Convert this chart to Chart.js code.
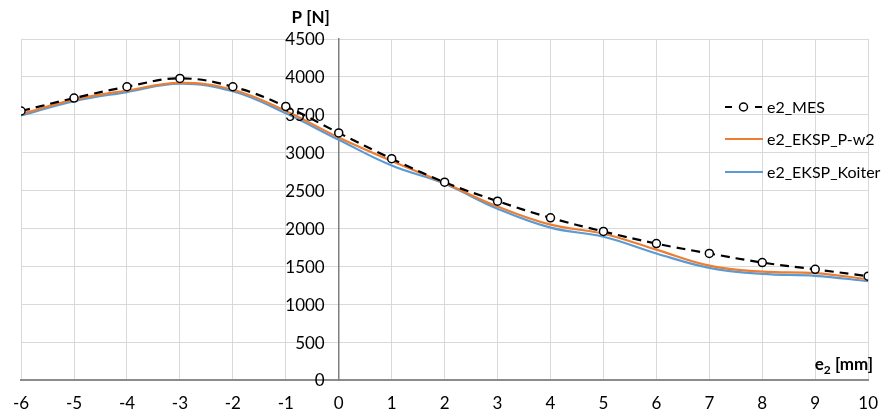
<!DOCTYPE html>
<html>
<head>
<meta charset="utf-8">
<script src="https://cdn.jsdelivr.net/npm/chart.js@4/dist/chart.umd.min.js"></script>
<style>
  html, body { margin: 0; padding: 0; background: #fff; }
  #wrap { width: 891px; height: 417px; position: relative; }
</style>
</head>
<body>
<div id="wrap"><canvas id="chart"></canvas></div>
<script>
// e2 eccentricity [mm] and load P [N]
const e2Values = [-6, -5, -4, -3, -2, -1, 0, 1, 2, 3, 4, 5, 6, 7, 8, 9, 10];
const mesValues = [3550, 3720, 3870, 3980, 3870, 3610, 3260, 2920, 2610, 2360, 2140, 1960, 1800, 1670, 1550, 1460, 1370];
const pw2Values = [3510, 3700, 3820, 3920, 3830, 3550, 3200, 2890, 2600, 2290, 2050, 1930, 1720, 1510, 1430, 1410, 1330];
const koiterValues = [3490, 3680, 3800, 3910, 3810, 3520, 3170, 2830, 2590, 2260, 2010, 1890, 1670, 1480, 1400, 1375, 1305];
const yTicks = [0, 500, 1000, 1500, 2000, 2500, 3000, 3500, 4000, 4500];

const FONT = 'Lato, "Open Sans", sans-serif';
const toPoints = vals => e2Values.map((x, i) => ({ x: x, y: vals[i] }));

// y tick labels sit left of the centred axis; Chart.js ignores padding there
const yLabels = {
    id: 'yLabels',
    afterDatasetsDraw(chart) {
        const ctx = chart.ctx;
        const yScale = chart.scales.y;
        const axisX = chart.scales.x.getPixelForValue(0);
        ctx.save();
        ctx.font = '17px ' + FONT;
        ctx.fillStyle = '#000';
        ctx.textAlign = 'right';
        ctx.textBaseline = 'middle';
        yTicks.forEach(v => ctx.fillText(String(v), axisX - 14, yScale.getPixelForValue(v) + 1));
        ctx.restore();
    }
};

// axis titles and the legend box on the right
const annotations = {
    id: 'annotations',
    afterDraw(chart) {
        const ctx = chart.ctx;
        const area = chart.chartArea;
        const yAxisX = chart.scales.x.getPixelForValue(0);
        ctx.save();
        ctx.fillStyle = '#000';
        ctx.textBaseline = 'alphabetic';

        ctx.font = 'bold 17px ' + FONT;
        ctx.textAlign = 'center';
        ctx.fillText('P [N]', yAxisX - 28, 23);

        // e₂ [mm]
        ctx.textAlign = 'left';
        const tail = ' [mm]';
        ctx.font = 'bold 17px ' + FONT;
        const wE = ctx.measureText('e').width;
        const wT = ctx.measureText(tail).width;
        ctx.font = 'bold 12px ' + FONT;
        const wSub = ctx.measureText('2').width;
        let x = area.right + 5 - (wE + wSub + wT);
        const base = 370;
        ctx.font = 'bold 17px ' + FONT;
        ctx.fillText('e', x, base);
        ctx.font = 'bold 12px ' + FONT;
        ctx.fillText('2', x + wE, base + 4);
        ctx.font = 'bold 17px ' + FONT;
        ctx.fillText(tail, x + wE + wSub, base);

        // legend
        const lx = 725, rows = [107, 139, 172];
        ctx.font = '16px ' + FONT;
        ctx.textBaseline = 'middle';
        chart.data.datasets.forEach((ds, i) => {
            const y = rows[i];
            ctx.strokeStyle = ds.borderColor;
            ctx.lineWidth = 2.2;
            ctx.setLineDash([]);
            ctx.beginPath();
            if (ds.borderDash) {
                ctx.moveTo(lx, y); ctx.lineTo(lx + 7, y);
                ctx.moveTo(lx + 30, y); ctx.lineTo(lx + 37, y);
                ctx.stroke();
                ctx.beginPath();
                ctx.lineWidth = 1.5;
                ctx.fillStyle = '#fff';
                ctx.arc(lx + 18.5, y, 4, 0, Math.PI * 2);
                ctx.fill();
                ctx.stroke();
            } else {
                ctx.moveTo(lx, y); ctx.lineTo(lx + 38, y);
                ctx.stroke();
            }
            ctx.fillStyle = '#000';
            ctx.fillText(ds.label, lx + 42, y + 1);
        });
        ctx.restore();
    }
};

new Chart(document.getElementById('chart'), {
    type: 'line',
    data: {
        datasets: [{
            label: 'e2_MES',
            data: toPoints(mesValues),
            borderColor: '#000000',
            borderWidth: 2.2,
            borderDash: [9, 6],
            tension: 0.4,
            pointRadius: 4,
            pointBorderWidth: 1.5,
            pointBackgroundColor: '#ffffff',
            pointBorderColor: '#000000'
        }, {
            label: 'e2_EKSP_P-w2',
            data: toPoints(pw2Values),
            borderColor: '#ED7D31',
            borderWidth: 2.2,
            tension: 0.4,
            pointRadius: 0
        }, {
            label: 'e2_EKSP_Koiter',
            data: toPoints(koiterValues),
            borderColor: '#5B9BD5',
            borderWidth: 2.2,
            tension: 0.4,
            pointRadius: 0
        }]
    },
    options: {
        responsive: true,
        maintainAspectRatio: false,
        animation: false,
        layout: { padding: { left: 13, right: 11, top: 39, bottom: 37 } },
        plugins: { legend: { display: false }, tooltip: { enabled: false } },
        scales: {
            x: {
                type: 'linear',
                position: { y: 0 },
                min: -6, max: 10,
                ticks: { stepSize: 1, color: '#000', padding: 13, font: { family: FONT, size: 17 },
                         callback: v => String(v) },
                grid: { color: '#d9d9d9', lineWidth: 1, drawTicks: false },
                border: { color: '#8c8c8c', width: 2 }
            },
            y: {
                type: 'linear',
                position: { x: 0 },
                min: 0, max: 4500,
                afterBuildTicks: axis => { axis.ticks = yTicks.map(v => ({ value: v })); },
                ticks: { display: false },
                grid: { color: '#d9d9d9', lineWidth: 1, drawTicks: false },
                border: { color: '#7f7f7f', width: 1.5 }
            }
        }
    },
    plugins: [yLabels, annotations]
});
</script>
</body>
</html>
